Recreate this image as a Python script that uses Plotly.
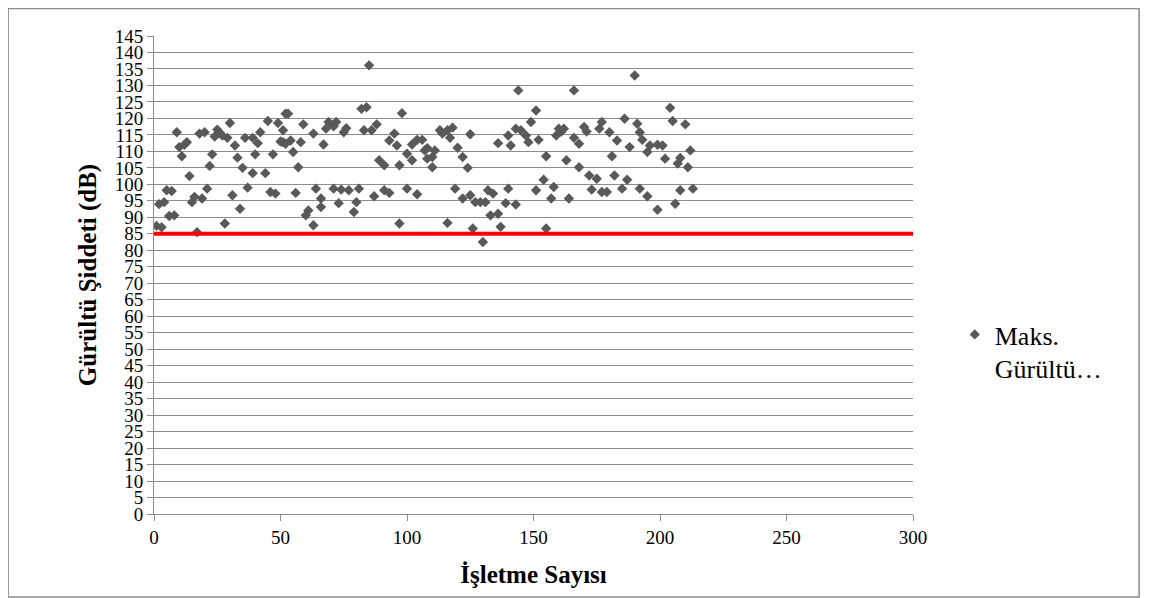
import plotly.graph_objects as go

x_vals = [1, 3, 2, 4, 5, 7, 6, 8, 9, 10, 11, 12, 13, 14, 16, 15, 19, 17, 18, 20,
          21, 22, 23, 25, 24, 27, 26, 28, 30, 29, 32, 31, 33, 34, 35, 36, 37, 39, 39, 40,
          41, 42, 44, 45, 46, 47, 48, 49, 51, 50, 52, 51, 52, 53, 54, 55, 57, 56, 58, 59,
          63, 61, 60, 63, 64, 66, 66, 67, 68, 69, 71, 71, 72, 73, 74, 75, 76, 77, 79, 80,
          81, 82, 84, 83, 85, 86, 88, 87, 89, 91, 91, 93, 95, 93, 96, 97, 97, 98, 100, 100,
          102, 102, 104, 104, 106, 108, 108, 107, 110, 110, 111, 113, 114, 116, 117, 118, 116, 119, 120, 122,
          122, 124, 125, 125, 126, 127, 129, 130, 131, 132, 133, 134, 136, 136, 137, 139, 140, 140, 141, 143,
          143, 144, 145, 147, 148, 149, 151, 151, 152, 154, 155, 155, 157, 158, 159, 160, 161, 162, 166, 166,
          163, 164, 168, 168, 170, 171, 172, 173, 175, 176, 177, 177, 179, 180, 181, 182, 183, 185, 186, 187,
          188, 190, 191, 192, 192, 193, 195, 195, 196, 199, 199, 201, 202, 204, 205, 206, 207, 208, 208, 210,
          211, 212, 213]
y_vals = [87.4, 87.0, 94.0, 94.6, 98.2, 98.0, 90.4, 90.6, 115.8, 111.3, 108.5, 112.0, 112.8, 102.5, 96.2, 94.6, 95.7, 85.5, 115.4, 115.8,
          98.7, 105.6, 109.1, 116.6, 114.5, 114.8, 115.6, 88.1, 118.6, 114.1, 111.8, 96.7, 108.1, 92.6, 105.0, 114.1, 99.0, 114.1, 103.4, 109.1,
          112.5, 115.8, 103.4, 119.2, 97.7, 109.1, 97.2, 118.6, 116.4, 113.0, 121.4, 112.8, 112.3, 121.4, 113.3, 109.8, 105.2, 97.4, 112.8, 118.2,
          115.4, 92.1, 90.6, 87.6, 98.7, 93.1, 95.7, 112.1, 116.9, 118.9, 98.7, 117.6, 118.9, 94.3, 98.4, 115.8, 117.0, 98.2, 91.6, 94.6,
          98.7, 122.9, 123.4, 116.4, 136.1, 116.4, 118.2, 96.4, 107.3, 105.8, 98.2, 97.4, 115.4, 113.3, 111.8, 105.8, 88.1, 121.6, 98.7, 109.3,
          112.1, 107.3, 113.5, 97.0, 113.5, 107.8, 111.0, 110.3, 108.3, 105.2, 110.3, 116.4, 115.4, 116.4, 114.1, 117.2, 88.3, 98.7, 111.1, 108.3,
          95.7, 105.0, 115.2, 96.7, 86.6, 94.6, 94.6, 82.5, 94.6, 98.2, 90.6, 97.2, 91.1, 112.5, 87.1, 94.3, 98.7, 114.8, 111.8, 116.9,
          93.9, 128.5, 116.4, 114.8, 112.8, 118.9, 122.4, 98.2, 113.5, 101.4, 86.6, 108.5, 95.7, 99.2, 114.8, 116.9, 116.0, 116.9, 128.5, 114.1,
          107.3, 95.7, 105.2, 112.3, 117.4, 116.0, 102.7, 98.4, 101.7, 116.9, 118.9, 97.7, 97.7, 115.8, 108.5, 102.7, 113.3, 98.7, 119.9, 101.4,
          111.3, 133.0, 118.4, 115.8, 98.7, 113.5, 109.8, 96.4, 111.8, 92.3, 112.0, 111.8, 107.8, 123.2, 119.2, 94.1, 106.3, 98.2, 108.0, 118.2,
          105.2, 110.3, 98.7]

threshold = 85
x_range = [0, 300]
y_ticks = list(range(0, 146, 5))
x_ticks = list(range(0, 301, 50))
series_name = "Maks.<br>Gürültü…"
x_title = "İşletme Sayısı"
y_title = "Gürültü Şiddeti (dB)"

serif = "Liberation Serif, Times New Roman, serif"

fig = go.Figure()
fig.add_trace(go.Scatter(
    x=x_vals, y=y_vals, mode="markers", name=series_name,
    marker=dict(symbol="diamond", size=8, color="#595959", line=dict(width=0)),
))
fig.add_trace(go.Scatter(
    x=x_range, y=[threshold, threshold], mode="lines",
    line=dict(color="#ff0000", width=4), showlegend=False, hoverinfo="skip",
))

fig.update_layout(
    width=1145, height=590,
    margin=dict(l=146, r=240, t=28, b=84),
    paper_bgcolor="white", plot_bgcolor="white",
    font=dict(family=serif, color="black", size=19),
    legend=dict(x=1.055, y=0.34, xanchor="left", yanchor="middle", valign="top",
                font=dict(size=26, family=serif), bgcolor="rgba(0,0,0,0)",
                itemwidth=30, tracegroupgap=0),
    shapes=[dict(type="rect", xref="paper", yref="paper",
                 x0=-0.1922, x1=1.2979, y0=-0.1736, y1=1.0575,
                 line=dict(color="#8c8c8c", width=1.5), fillcolor="rgba(0,0,0,0)",
                 layer="below")],
)
fig.update_xaxes(
    range=x_range, tickvals=x_ticks, showgrid=False, zeroline=False,
    showline=True, linecolor="#8c8c8c", linewidth=1,
    ticks="outside", ticklen=6, tickcolor="#8c8c8c",
    tickfont=dict(size=19, family=serif),
    title=dict(text="<b>" + x_title + "</b>", font=dict(size=25, family=serif), standoff=18),
)
fig.update_yaxes(
    range=[0, 145], tickvals=y_ticks, showgrid=True, gridcolor="#8c8c8c", gridwidth=1,
    zeroline=False, showline=True, linecolor="#8c8c8c", linewidth=1,
    ticks="outside", ticklen=6, tickcolor="#8c8c8c",
    tickfont=dict(size=19, family=serif),
    title=dict(text="<b>" + y_title + "</b>", font=dict(size=25, family=serif), standoff=10),
)

fig.write_html("out.html")
